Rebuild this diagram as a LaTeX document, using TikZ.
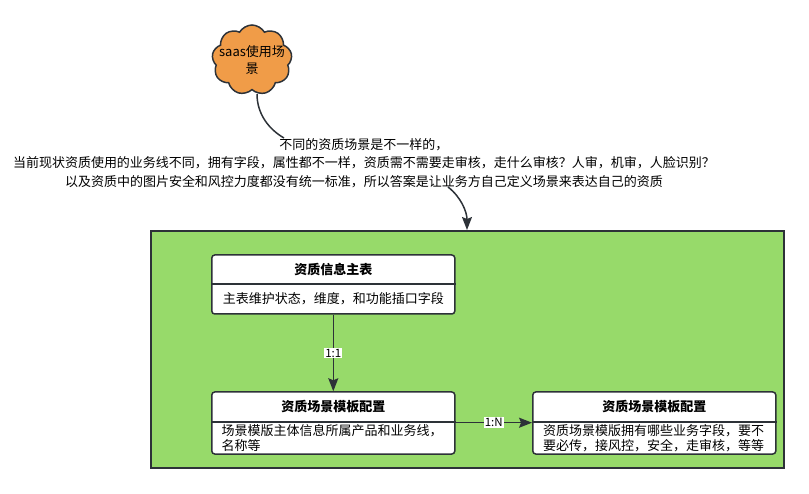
\documentclass[tikz,border=0pt]{standalone}
\usepackage{fontspec}
\setmainfont{Noto Sans CJK SC}
\usetikzlibrary{shapes.symbols,arrows.meta}
\definecolor{edge}{RGB}{45,50,56}
\definecolor{grn}{RGB}{151,218,106}
\definecolor{orng}{RGB}{240,156,72}
\tikzset{
  tbox/.style={draw=edge, line width=1.5pt, fill=white, rounded corners=3pt, minimum width=243pt, inner sep=0pt},
  hdr/.style={font=\fontsize{13}{16}\selectfont\bfseries, inner sep=0pt},
  bodytxt/.style={font=\fontsize{13}{16}\selectfont, inner sep=0pt, align=left},
  conn/.style={draw=edge, line width=1.5pt, -{Stealth[length=13pt,width=10pt,inset=2pt]}},
  lbl/.style={fill=white, inner sep=1pt, font=\fontsize{11.5}{13}\selectfont}
}
\begin{document}
\begin{tikzpicture}[x=1pt,y=-1pt]
\useasboundingbox (0,0) rectangle (809,494);
% group
\node[draw=edge, line width=2pt, fill=grn, minimum width=633pt, minimum height=237pt, inner sep=0pt] (grp) at (467.5,349.5) {};
% cloud
\node[cloud, cloud puffs=9, cloud puff arc=120, draw=edge, line width=1.5pt, fill=orng, minimum width=80pt, minimum height=70pt, inner sep=0pt] (cld) at (252,60) {};
\node[align=center, inner sep=0pt, font=\fontsize{13}{17}\selectfont] (cldt) at (cld.center) {saas使用场\\景};
% text
\node[align=center, inner sep=0pt, font=\fontsize{13}{18.5}\selectfont] (txt) at (364,163) {不同的资质场景是不一样的，\\当前现状资质使用的业务线不同，拥有字段，属性都不一样，资质需不需要走审核，走什么审核？人审，机审，人脸识别？\\以及资质中的图片安全和风控力度都没有统一标准，所以答案是让业务方自己定义场景来表达自己的资质};
\coordinate (cb) at (257,94);
\coordinate (tt) at (284,138);
\coordinate (tb) at (448,187);
\draw[draw=edge, line width=1.5pt] (cb) .. controls (257,115) and (270,130) .. (tt);
\draw[conn] (tb) .. controls (461,197) and (467,212) .. (grp.north -| 467,0);
% box 1
\node[tbox, minimum height=59pt] (b1) at (333.3,284.5) {};
\draw[draw=edge, line width=1.5pt] (b1.west |- 0,284) -- (b1.east |- 0,284);
\node[hdr] (b1h) at (333.3,270) {资质信息主表};
\node[bodytxt] (b1b) at (333.3,299) {主表维护状态，维度，和功能插口字段};
% box 2
\node[tbox, minimum height=62pt] (b2) at (333.3,423) {};
\draw[draw=edge, line width=1.5pt] (b2.west |- 0,422) -- (b2.east |- 0,422);
\node[hdr] (b2h) at (333.3,407) {资质场景模板配置};
\node[bodytxt, anchor=north west, font=\fontsize{13}{15.5}\selectfont] (b2b) at (221.5,424) {场景模版主体信息所属产品和业务线，\\名称等};
% box 3
\node[tbox, minimum height=62pt] (b3) at (654.3,423) {};
\draw[draw=edge, line width=1.5pt] (b3.west |- 0,422) -- (b3.east |- 0,422);
\node[hdr] (b3h) at (654.3,407) {资质场景模板配置};
\node[bodytxt, anchor=north west, font=\fontsize{13}{15.5}\selectfont] (b3b) at (543,424) {资质场景模版拥有哪些业务字段，要不\\要必传，接风控，安全，走审核，等等};
% connectors
\draw[conn] (b1.south) -- node[lbl] {1:1} (b2.north);
\draw[conn] (b2.east |- 0,422.7) -- node[lbl] {1:N} (b3.west |- 0,422.7);
\end{tikzpicture}
\end{document}
